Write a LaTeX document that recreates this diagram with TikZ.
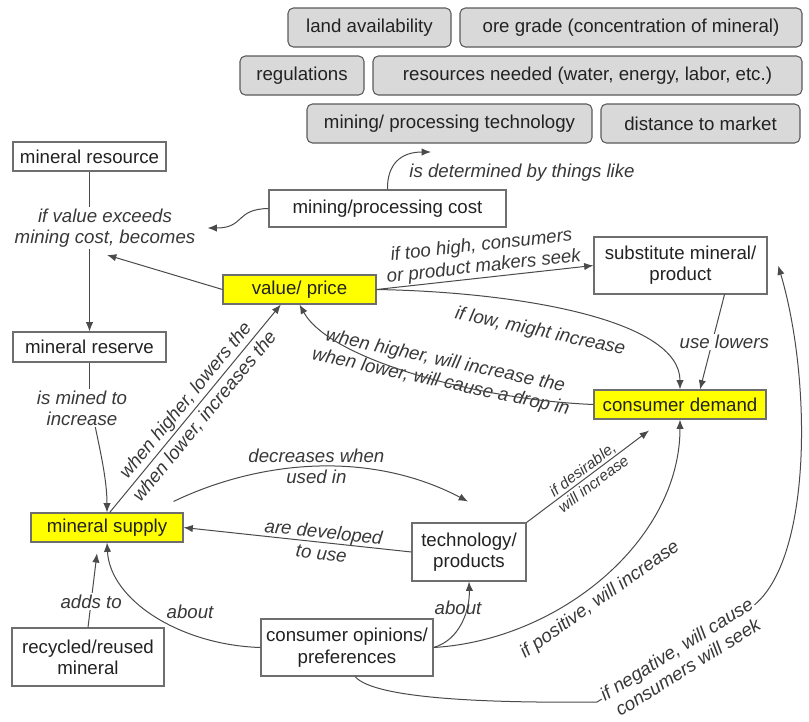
\documentclass[tikz,border=0pt]{standalone}
\usepackage{fontspec}
\setmainfont{Liberation Sans}
\usepackage{xcolor}
\usetikzlibrary{arrows.meta}
\definecolor{boxline}{HTML}{6E6E6E}
\definecolor{factorfill}{HTML}{D9D9D9}
\definecolor{factorline}{HTML}{5A5A5A}
\definecolor{linkgray}{HTML}{4A4A4A}
\definecolor{inkgray}{HTML}{222222}
\definecolor{keyyellow}{HTML}{FFFF00}

\tikzset{
    boxsize/.style 2 args={minimum width=#1*0.75pt, minimum height=#2*0.75pt},
    concept/.style={draw=boxline, fill=white, text=inkgray, align=center, inner sep=1pt, line width=0.8pt},
    keyconcept/.style={concept, fill=keyyellow},
    factor/.style={concept, draw=factorline, fill=factorfill, rounded corners=4pt},
    link/.style={text=inkgray!90, align=center, inner sep=1pt, font=\fontsize{14}{16}\selectfont\itshape},
    widelink/.style={link, font=\fontsize{14}{18.5}\selectfont\itshape},
    smalllink/.style={link, font=\fontsize{11.5}{13.5}\selectfont\itshape},
    conn/.style={draw=linkgray, line width=0.75pt, -{Latex[length=7pt,width=5.5pt]}},
    plain/.style={draw=linkgray, line width=0.75pt}
}

\begin{document}
\begin{tikzpicture}[x=0.75pt, y=-0.75pt, font=\fontsize{14}{16}\selectfont]
    \useasboundingbox (0,0) rectangle (809,721);

    \node[factor, boxsize={163}{39}] (land) at (369.5,27.5) {land availability};
    \node[factor, boxsize={342}{39}] (ore) at (631,27.5) {ore grade (concentration of mineral)};
    \node[factor, boxsize={124}{39}] (regs) at (302,75.5) {regulations};
    \node[factor, boxsize={429}{39}] (needs) at (587.5,75.5) {resources needed (water, energy, labor, etc.)};
    \node[factor, boxsize={285}{39}] (mtech) at (449.5,123.5) {mining/ processing technology};
    \node[factor, boxsize={199}{39}] (market) at (700.5,123.5) {distance to market};

    \node[concept, boxsize={153}{29}] (res) at (89.5,156.5) {mineral resource};
    \node[concept, boxsize={237}{37}] (cost) at (387.5,208.5) {mining/processing cost};
    \node[keyconcept, boxsize={153}{29}] (price) at (299.5,289.5) {value/ price};
    \node[concept, boxsize={173}{57}] (subst) at (680.5,265.5) {substitute mineral/\\product};
    \node[concept, boxsize={153}{30}] (reserve) at (89.5,347) {mineral reserve};
    \node[keyconcept, boxsize={172}{29}] (demand) at (680,404.5) {consumer demand};
    \node[keyconcept, boxsize={152}{29}] (supply) at (107,527.5) {mineral supply};
    \node[concept, boxsize={114}{58}] (tech) at (469,552) {technology/\\products};
    \node[concept, boxsize={172}{57}] (opinions) at (347,647.5) {consumer opinions/\\preferences};
    \node[concept, boxsize={152}{58}] (recycled) at (88,657) {recycled/reused\\mineral};

    \node[link] (exceeds) at (105,228) {if value exceeds\\mining cost, becomes};
    \node[link] (mined) at (82,408) {is mined to\\increase};
    \node[link] (determ) at (522,173) {is determined by things like};
    \coordinate (dettip) at (431,152);
    \node[link, rotate=-12] (lowprice) at (540,332) {if low, might increase};
    \node[link, rotate=-12] (whenhigher) at (443,372) {when higher, will increase the\\when lower, will cause a drop in};
    \node[link] (aboutL) at (190,612) {about};
    \node[link] (aboutR) at (458,608) {about};
    \node[link, rotate=35] (positive) at (600,600) {if positive, will increase};

    \draw[plain] (res) -- (res |- exceeds.north);
    \draw[conn] (reserve |- exceeds.south) -- (reserve);
    \draw[conn] (cost.west) .. controls (235,209) and (245,228) .. ([xshift=8pt]exceeds.east);
    \draw[conn] (price.west) -- ([shift={(2,6)}]exceeds.south);
    \draw[conn] (cost.north) .. controls (387,165) and (400,152) .. (dettip);
    \draw[conn] (price.east) -- node[link, sloped, above]{if too high, consumers\\or product makers seek} (subst.west);
    \draw[conn] (price.east) .. controls (520,292) and (680,320) .. (demand.north);
    \draw[conn] ([xshift=33pt]subst.south) -- node[link, fill=white, xshift=9pt]{use lowers} ([xshift=15pt]demand.north);
    \draw[conn] (demand.west) .. controls (480,400) and (330,360) .. (price.south);
    \draw[conn] ([xshift=2pt]supply.north) -- node[widelink, sloped, midway]{when higher, lowers the\\when lower, increases the} ([xshift=-14pt]price.south);
    \draw[plain] (reserve) -- (reserve |- mined.north);
    \draw[conn] ([xshift=10pt]mined.south) .. controls (100,450) and (107,480) .. (supply.north);
    \draw[conn] ([shift={(-10,-11)}]supply.north east) .. controls (260,460) and (370,450) .. node[link, midway]{decreases when\\used in} ([shift={(-1,-21)}]tech.north);
    \draw[conn] (tech.west) -- node[link, sloped, pos=.39]{are developed\\to use} (supply.east);
    \draw[conn] (opinions.west) .. controls (180,645) and (110,600) .. (supply.south);
    \draw[conn] (recycled.north) -- node[link, fill=white, pos=.35]{adds to} ([xshift=-7.5pt, yshift=-8pt]supply.south);
    \draw[conn] (opinions.east) .. controls (460,640) and (470,610) .. (tech.south);
    \draw[conn] (opinions.east) .. controls (560,640) and (680,540) .. (demand.south);
    \draw[conn] (tech.north east) -- node[smalllink, sloped, midway]{if desirable,\\will increase} ([shift={(-31,11)}]demand.south);
    \draw[conn] ([xshift=6pt]opinions.south) .. controls (375,700) and (500,703) .. (597,702) -- (753,606) .. controls (812,560) and (812,380) .. ([xshift=8pt]subst.east);

    \node[link, fill=white, rotate=32] (negative) at (682,658) {if negative, will cause\\consumers will seek};
\end{tikzpicture}
\end{document}
